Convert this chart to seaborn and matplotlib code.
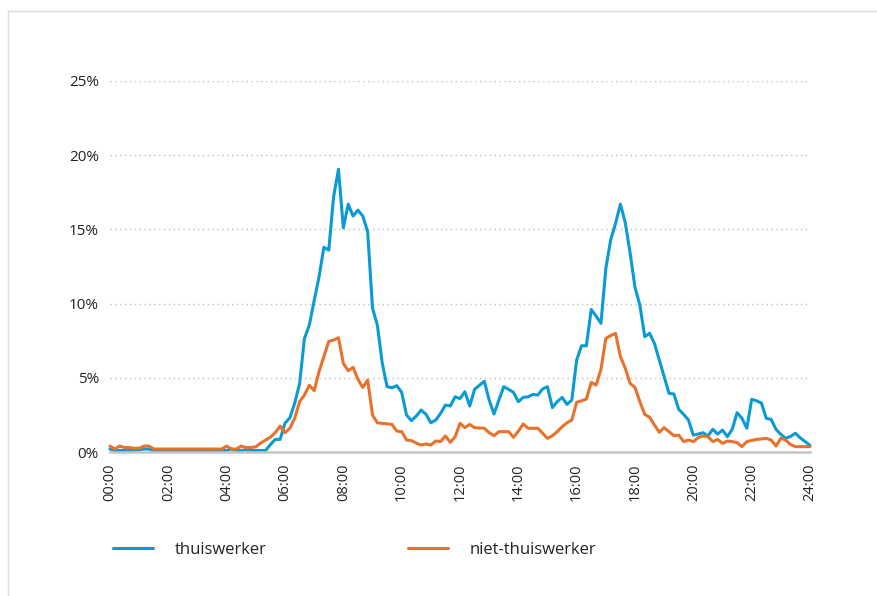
import numpy as np
import pandas as pd
import seaborn as sns
import matplotlib.pyplot as plt
from matplotlib.lines import Line2D
from matplotlib.ticker import MultipleLocator, FuncFormatter

# aandeel per 10 minuten, 00:00 t/m 24:00 (in %)
thuiswerker = [
    0.2, 0.1, 0.1, 0.1, 0.1, 0.1, 0.15, 0.2, 0.2, 0.1,
    0.1, 0.1, 0.1, 0.1, 0.1, 0.1, 0.1, 0.1, 0.1, 0.1,
    0.1, 0.1, 0.1, 0.1, 0.1, 0.2, 0.1, 0.1, 0.15, 0.1,
    0.1, 0.1, 0.1, 0.5, 0.85, 0.85, 1.95, 2.3, 3.3, 4.6,
    7.65, 8.55, 10.2, 11.8, 13.8, 13.6, 17.2, 19.05, 15.1, 16.7,
    15.9, 16.3, 15.9, 14.85, 9.7, 8.55, 6.0, 4.4, 4.33, 4.47,
    4.02, 2.49, 2.11, 2.42, 2.83, 2.54, 1.97, 2.15, 2.6, 3.16,
    3.1, 3.72, 3.6, 4.06, 3.1, 4.22, 4.5, 4.76, 3.5, 2.56,
    3.5, 4.4, 4.22, 4.02, 3.39, 3.68, 3.72, 3.88, 3.84, 4.25,
    4.4, 2.99, 3.39, 3.68, 3.21, 3.5, 6.2, 7.16, 7.16, 9.6,
    9.16, 8.67, 12.37, 14.3, 15.4, 16.7, 15.45, 13.4, 11.1, 9.9,
    7.77, 8.0, 7.32, 6.2, 5.07, 3.95, 3.91, 2.87, 2.54, 2.15,
    1.14, 1.21, 1.3, 1.08, 1.53, 1.21, 1.48, 1.03, 1.53, 2.65,
    2.27, 1.6, 3.55, 3.45, 3.3, 2.27, 2.2, 1.53, 1.19, 0.92,
    1.05, 1.26, 0.95, 0.7, 0.45,
]
niet_thuiswerker = [
    0.4, 0.2, 0.4, 0.3, 0.3, 0.25, 0.25, 0.4, 0.4, 0.2,
    0.2, 0.2, 0.2, 0.2, 0.2, 0.2, 0.2, 0.2, 0.2, 0.2,
    0.2, 0.2, 0.2, 0.2, 0.4, 0.2, 0.2, 0.4, 0.3, 0.3,
    0.35, 0.6, 0.8, 1.0, 1.3, 1.75, 1.3, 1.6, 2.27, 3.39,
    3.84, 4.5, 4.13, 5.41, 6.42, 7.45, 7.55, 7.7, 5.97, 5.48,
    5.7, 4.9, 4.35, 4.85, 2.49, 1.97, 1.93, 1.9, 1.86, 1.41,
    1.37, 0.81, 0.77, 0.6, 0.47, 0.54, 0.47, 0.74, 0.7, 1.08,
    0.65, 1.03, 1.93, 1.64, 1.86, 1.64, 1.62, 1.6, 1.3, 1.1,
    1.37, 1.37, 1.37, 0.99, 1.4, 1.89, 1.6, 1.6, 1.6, 1.26,
    0.92, 1.1, 1.37, 1.7, 1.97, 2.15, 3.35, 3.45, 3.57, 4.69,
    4.51, 5.57, 7.65, 7.85, 7.99, 6.42, 5.64, 4.62, 4.35, 3.39,
    2.54, 2.34, 1.82, 1.33, 1.64, 1.37, 1.1, 1.14, 0.7, 0.81,
    0.7, 0.97, 1.08, 1.03, 0.7, 0.85, 0.58, 0.74, 0.7, 0.63,
    0.36, 0.7, 0.78, 0.85, 0.88, 0.92, 0.81, 0.4, 0.92, 0.81,
    0.5, 0.36, 0.36, 0.36, 0.36,
]
groepen = ["thuiswerker", "niet-thuiswerker"]
kleuren = ["#0a9bd6", "#e8722c"]
y_ticks = [0, 5, 10, 15, 20, 25]

minuten = np.arange(0, 24 * 60 + 1, 10)
uur = minuten / 60

df = pd.DataFrame({
    "uur": np.concatenate([uur, uur]),
    "aandeel": thuiswerker + niet_thuiswerker,
    "groep": [groepen[0]] * len(uur) + [groepen[1]] * len(uur),
})

sns.set_style("white")
plt.rcParams["font.family"] = ["Open Sans", "DejaVu Sans"]
plt.rcParams["text.color"] = "#222222"

fig = plt.figure(figsize=(8.78, 5.96), dpi=100, facecolor="white")
ax = fig.add_axes([110 / 878, 1 - 452 / 596, 700 / 878, 371 / 596])

sns.lineplot(data=df, x="uur", y="aandeel", hue="groep", hue_order=groepen,
             palette=kleuren, linewidth=2.2, legend=False, ax=ax)
for ln in ax.lines:
    ln.set_clip_on(False)

ax.set_xlim(0, 24)
ax.set_ylim(0, 25)
ax.set_yticks(y_ticks)
ax.yaxis.set_major_formatter(FuncFormatter(lambda v, p: f"{v:.0f}%"))
ax.xaxis.set_major_locator(MultipleLocator(2))
ax.xaxis.set_minor_locator(MultipleLocator(2 / 3))
ax.xaxis.set_major_formatter(FuncFormatter(lambda v, p: f"{int(v):02d}:00"))
ax.set_xlabel("")
ax.set_ylabel("")

for s in ["top", "right", "left"]:
    ax.spines[s].set_visible(False)
ax.spines["bottom"].set_color("#c4c4c4")
ax.spines["bottom"].set_linewidth(1.8)

ax.tick_params(axis="y", length=0, pad=8, labelsize=11, labelcolor="#222222")
ax.tick_params(axis="x", which="both", direction="in", length=5, width=1,
               color="#c4c4c4", pad=8, labelsize=10.5, labelcolor="#222222",
               labelrotation=90)

for v in y_ticks[1:]:
    ax.axhline(v, color="#bdbdbd", linewidth=1, linestyle=(0, (1, 2.5)), zorder=0)

# legend in twee losse delen
for i, (g, c) in enumerate(zip(groepen, kleuren)):
    x0 = [113, 408][i] / 878
    fig.legend(handles=[Line2D([], [], color=c, linewidth=2.2)], labels=[g],
               loc="center left", bbox_to_anchor=(x0, 1 - 550 / 596),
               frameon=False, fontsize=12, handlelength=2.4, handletextpad=1.3,
               borderpad=0, borderaxespad=0)

# kader links en boven
fig.add_artist(Line2D([8 / 878, 8 / 878], [0, 1 - 11 / 596], color="#dcdcdc", linewidth=1))
fig.add_artist(Line2D([8 / 878, 1], [1 - 11 / 596, 1 - 11 / 596], color="#dcdcdc", linewidth=1))

fig.savefig("out.png", dpi=100, facecolor="white")
